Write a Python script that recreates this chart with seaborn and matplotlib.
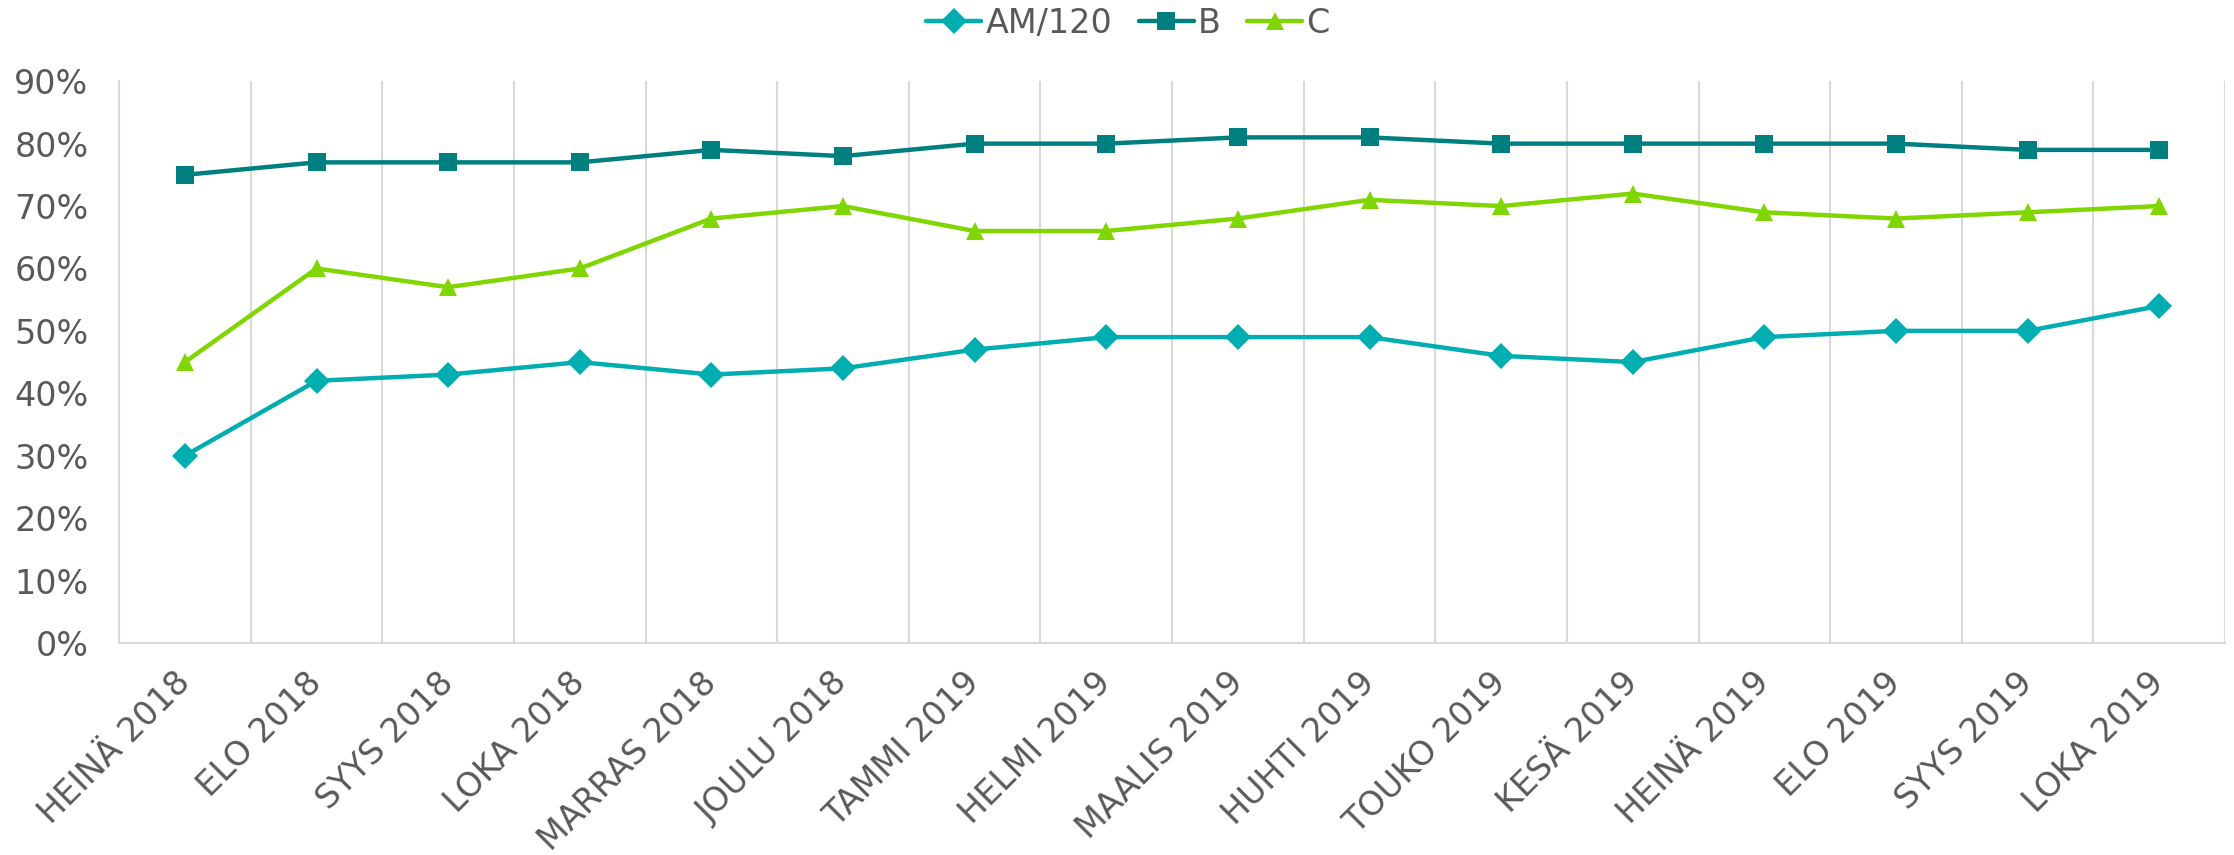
import numpy as np
import pandas as pd
import matplotlib.pyplot as plt
import seaborn as sns
from matplotlib.ticker import PercentFormatter

months = [
    "HEINÄ 2018", "ELO 2018", "SYYS 2018", "LOKA 2018", "MARRAS 2018",
    "JOULU 2018", "TAMMI 2019", "HELMI 2019", "MAALIS 2019", "HUHTI 2019",
    "TOUKO 2019", "KESÄ 2019", "HEINÄ 2019", "ELO 2019", "SYYS 2019", "LOKA 2019",
]
am120 = [30, 42, 43, 45, 43, 44, 47, 49, 49, 49, 46, 45, 49, 50, 50, 54]
b_vals = [75, 77, 77, 77, 79, 78, 80, 80, 81, 81, 80, 80, 80, 80, 79, 79]
c_vals = [45, 60, 57, 60, 68, 70, 66, 66, 68, 71, 70, 72, 69, 68, 69, 70]

series_names = ["AM/120", "B", "C"]
colors = {"AM/120": "#00adb0", "B": "#007f80", "C": "#80d600"}
markers = {"AM/120": "D", "B": "s", "C": "^"}

df = pd.DataFrame({
    "month": months * 3,
    "idx": list(range(len(months))) * 3,
    "series": ["AM/120"] * 16 + ["B"] * 16 + ["C"] * 16,
    "value": am120 + b_vals + c_vals,
})

sns.set_theme(style="white")
plt.rcParams["font.family"] = ["DejaVu Sans"]
text_color = "#595959"
grid_color = "#d9d9d9"

fig, ax = plt.subplots(figsize=(22.34, 8.55), dpi=100)
sns.lineplot(
    data=df, x="idx", y="value", hue="series", style="series",
    hue_order=series_names, style_order=series_names,
    palette=colors, markers=markers, dashes=False,
    linewidth=3.2, markersize=13, markeredgewidth=0, ax=ax,
)

ax.set_xlim(-0.5, len(months) - 0.5)
ax.set_ylim(0, 90)
ax.set_yticks(np.arange(0, 91, 10))
ax.yaxis.set_major_formatter(PercentFormatter(decimals=0))
ax.set_xticks(range(len(months)))
ax.set_xticklabels(months, rotation=45, ha="right", va="center",
                   rotation_mode="anchor")
ax.tick_params(axis="both", colors=text_color, length=0, labelsize=24)
ax.tick_params(axis="y", pad=22)
ax.tick_params(axis="x", pad=25)
ax.set_xlabel("")
ax.set_ylabel("")

# vertical gridlines between categories, like excel
for k in range(1, len(months) + 1):
    ax.axvline(k - 0.5, color=grid_color, linewidth=1.5, zorder=0)
for side in ["top", "right"]:
    ax.spines[side].set_visible(False)
for side in ["left", "bottom"]:
    ax.spines[side].set_color(grid_color)
    ax.spines[side].set_linewidth(1.5)

handles, labels = ax.get_legend_handles_labels()
leg = ax.legend(
    handles, labels, loc="center", bbox_to_anchor=(0.479, 1.103),
    ncol=3, frameon=False, labelcolor=text_color, fontsize=24,
    handlelength=1.65, handletextpad=0.12, columnspacing=0.8,
)

fig.subplots_adjust(left=0.0533, right=0.996, top=0.905, bottom=0.248)
fig.savefig("out.png", dpi=100)
